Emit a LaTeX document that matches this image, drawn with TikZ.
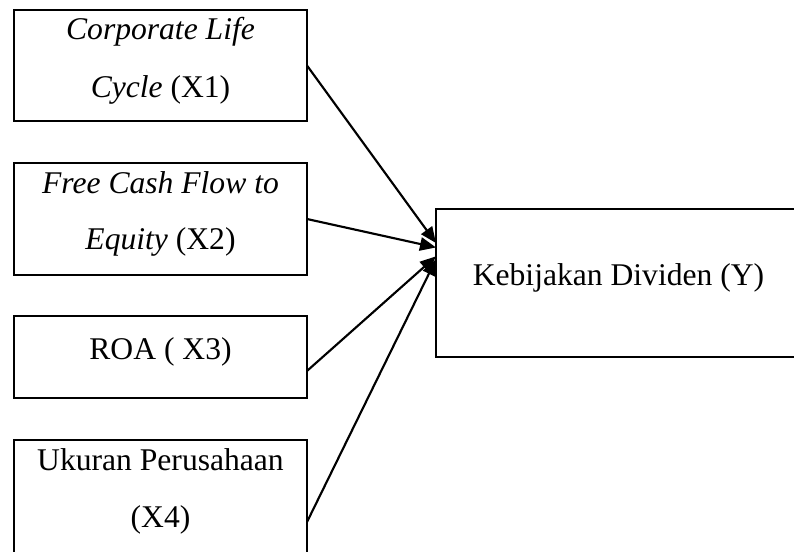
\documentclass[tikz,border=0pt]{standalone}
\usepackage{fontspec}
\setmainfont{Liberation Serif}
\usetikzlibrary{arrows.meta,calc}
\begin{document}
\begin{tikzpicture}[x=0.75pt,y=-0.75pt,
 box/.style={draw,line width=1.6pt,inner sep=0pt,outer sep=0pt},
 lbl/.style={anchor=base,inner sep=0pt,font=\fontsize{23.7}{28}\selectfont},
 link/.style={line width=1.6pt,-{Triangle[length=12pt,width=10pt]}}]
\useasboundingbox (0,0) rectangle (794,551);
\clip (0,0) rectangle (794,551);
% boxes
\node[box,minimum width=219.75pt,minimum height=83.25pt] (X1) at (160.5,65.5) {};
\node[box,minimum width=219.75pt,minimum height=84pt] (X2) at (160.5,219) {};
\node[box,minimum width=219.75pt,minimum height=61.5pt] (X3) at (160.5,357) {};
\node[box,minimum width=219.75pt,minimum height=123pt] (X4) at (160.5,522) {};
\node[box,minimum width=288pt,minimum height=111pt] (Y) at (628,283) {};
% texts
\node[lbl] (t1a) at (160.5,39) {\itshape Corporate Life};
\node[lbl] (t1b) at (160.5,97) {\textit{Cycle} (X1)};
\node[lbl] (t2a) at (160.5,193) {\itshape Free Cash Flow to};
\node[lbl] (t2b) at (160.5,249) {\textit{Equity} (X2)};
\node[lbl] (t3) at (160.5,359) {ROA ( X3)};
\node[lbl] (t4a) at (160.5,470) {Ukuran Perusahaan};
\node[lbl] (t4b) at (160.5,527) {(X4)};
\node[lbl] (ty) at (618.5,285) {Kebijakan Dividen (Y)};
% connectors
\coordinate (y1) at ($(Y.north west)!0.23!(Y.south west)$);
\coordinate (y2) at ($(Y.north west)!0.26!(Y.south west)$);
\coordinate (y3) at ($(Y.north west)!0.32!(Y.south west)$);
\coordinate (y4) at ($(Y.north west)!0.34!(Y.south west)$);
\coordinate (s3) at ($(X3.north east)!0.67!(X3.south east)$);
\draw[link] (X1.east) -- (y1);
\draw[link] (X2.east) -- (y2);
\draw[link] (s3) -- (y3);
\draw[link] (X4.east) -- (y4);
\end{tikzpicture}
\end{document}
